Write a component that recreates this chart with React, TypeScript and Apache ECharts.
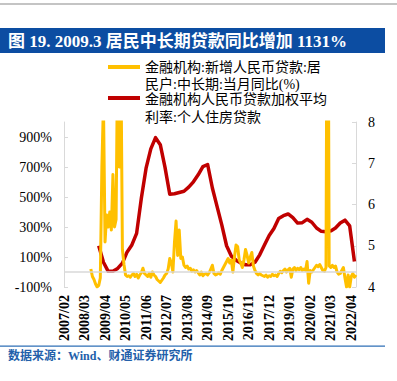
import React, { useEffect, useRef } from "react";
import * as echarts from "echarts";

// Monthly categories 2007/02 .. 2022/07
const firstYear = 2007;
const firstMonth = 2;
const monthCount = 186;
const months: string[] = [];
for (let i = 0; i < monthCount; i++) {
  const m = firstMonth - 1 + i;
  const y = firstYear + Math.floor(m / 12);
  const mm = (m % 12) + 1;
  months.push(`${y}/${mm < 10 ? "0" + mm : mm}`);
}

// 金融机构:新增人民币贷款:居民户:中长期:当月同比(%) — monthly, starting 2008/07
const loanStartIndex = 17;
const loanYoY: number[] = [
  20, -30, -50, -80, -100, -90, -40, 700, 1131, 200, 380, 300, 400, 280, 650, 300, 350, 1500, 700, 1500, 150,
  50, -20, -30, -25, -35, -20, -10, -30, -15, -40, -20, -5, 25, -10, -20, -30, -10, -35, 0, -20, -30, -50,
  -60, -70, -55, -40, -20, -10, 20, 90, 60, 0, 200, 340, 110, 280, 90, 100, 45, 30, 40, 20, 25, 5, 15, 0,
  10, -5, -20, 0, -25, -15,
  -10, -20, -5, 20, 45, -10, -20, -15, -5, -15, 10, 30, 50, 70, 90, 60, 80, 0, 100, 180, 170, 80, 60, 30,
  80, 150, 110, 60, 100, 130, 40, 10, -10, -20, -10, -20, -25, -30, -20, -35, -25, -30, -15, -25, -20, -30,
  -10, 5,
  -5, 10, 20, 0, 15, 25, -35, 20, 30, 10, 25, 15, 30, 10, 20, 10, 70, -75, 10, 0, 15, 30, 45, 35, 50, 30,
  10, 5, 30, 3000, 40, 30, 45, 30, 40, 0, -15, -10, 10, 30, -40, -100, -20, -100, -30, -10, -35, -20,
];

// 金融机构人民币贷款加权平均利率:个人住房贷款 — quarterly (quarter-end months), starting 2008/12
const rateStartIndex = 22;
const rateStep = 3;
const rateValues: number[] = [
  5.0, 4.6, 4.38, 4.38, 4.45, 4.58, 4.85, 5.02, 5.3, 6.15,
  6.88, 7.35, 7.62, 7.45, 6.9, 6.25, 6.26, 6.29, 6.32, 6.42,
  6.55, 6.72, 6.92, 6.97, 6.4, 5.95, 5.5, 5.0, 4.75, 4.65,
  4.58, 4.54, 4.54, 4.6, 4.78, 5.02, 5.25, 5.42, 5.66, 5.73,
  5.77, 5.68, 5.55, 5.56, 5.64, 5.57, 5.43, 5.35, 5.34, 5.36,
  5.43, 5.55, 5.62, 5.48, 4.62,
];

const leftTicks = [-100, 100, 300, 500, 700, 900];
const rightTicks = [4, 5, 6, 7, 8];

const seriesNames = [
  "金融机构:新增人民币贷款:居民户:中长期:当月同比(%)",
  "金融机构人民币贷款加权平均利率:个人住房贷款",
];
const legendLines = [
  ["金融机构:新增人民币贷款:居", "民户:中长期:当月同比(%)"],
  ["金融机构人民币贷款加权平均", "利率:个人住房贷款"],
];
const titleText = "图 19. 2009.3 居民中长期贷款同比增加 1131%";
const sourceText = "数据来源：Wind、财通证券研究所";

const YELLOW = "#FFC000";
const RED = "#C00000";
const GRAY = "#D9D9D9";
const SERIF = "'Liberation Serif', 'Noto Sans CJK SC', serif";

export default function App() {
  const ref = useRef<HTMLDivElement>(null);

  useEffect(() => {
    if (!ref.current) return;
    const chart = echarts.init(ref.current, undefined, { renderer: "svg" });

    const loanData = months.map((_, i) => {
      const k = i - loanStartIndex;
      return k >= 0 && k < loanYoY.length ? loanYoY[k] : null;
    });
    const rateData = rateValues.map((v, k) => [rateStartIndex + k * rateStep, v]);

    const legendGraphics: any[] = [];
    const legendColors = [YELLOW, RED];
    const legendIconY = [67, 98];
    const legendTextY = [
      [67, 84],
      [99, 117],
    ];
    legendLines.forEach((lines, k) => {
      legendGraphics.push({
        type: "line",
        shape: { x1: 108, y1: legendIconY[k], x2: 140, y2: legendIconY[k] },
        style: { stroke: legendColors[k], lineWidth: 4 },
      });
      lines.forEach((t, j) => {
        legendGraphics.push({
          type: "text",
          x: 145,
          y: legendTextY[k][j],
          style: {
            text: t,
            fill: "#000",
            fontSize: 14,
            fontFamily: SERIF,
            verticalAlign: "middle",
            align: "left",
          },
        });
      });
    });

    chart.setOption({
      animation: false,
      backgroundColor: "#fff",
      grid: {
        left: 64,
        right: 41,
        top: 122,
        bottom: 94,
        containLabel: false,
        outerBoundsMode: "none",
      },
      xAxis: {
        type: "category",
        data: months,
        boundaryGap: false,
        axisLine: { show: false },
        axisTick: { show: false },
        axisLabel: {
          interval: 12,
          rotate: 90,
          margin: 8,
          fontSize: 14,
          fontWeight: "bold",
          fontFamily: SERIF,
          color: "#000",
        },
        splitLine: { show: false },
      },
      yAxis: [
        {
          type: "value",
          min: -100,
          max: 1000,
          interval: 200,
          axisLine: { show: true, lineStyle: { color: GRAY, width: 1 } },
          axisTick: {
            show: true,
            inside: true,
            length: 4,
            lineStyle: { color: GRAY },
            customValues: leftTicks,
          },
          axisLabel: {
            formatter: "{value}%",
            customValues: leftTicks,
            margin: 12,
            fontSize: 14,
            fontFamily: SERIF,
            color: "#000",
          },
          splitLine: { show: false },
        },
        {
          type: "value",
          min: 4,
          max: 8,
          interval: 1,
          position: "right",
          axisLine: { show: true, lineStyle: { color: GRAY, width: 1 } },
          axisTick: {
            show: true,
            inside: true,
            length: 4,
            lineStyle: { color: GRAY },
            customValues: rightTicks,
          },
          axisLabel: {
            customValues: rightTicks,
            margin: 12,
            fontSize: 14,
            fontFamily: SERIF,
            color: "#000",
          },
          splitLine: { show: false },
        },
      ],
      series: [
        {
          name: seriesNames[1],
          type: "line",
          yAxisIndex: 1,
          data: rateData,
          showSymbol: false,
          symbol: "none",
          z: 2,
          lineStyle: { color: RED, width: 3.5, join: "round" },
          itemStyle: { color: RED },
        },
        {
          name: seriesNames[0],
          type: "line",
          yAxisIndex: 0,
          data: loanData,
          showSymbol: false,
          symbol: "none",
          clip: true,
          z: 3,
          lineStyle: { color: YELLOW, width: 3, join: "round" },
          itemStyle: { color: YELLOW },
          markLine: {
            silent: true,
            symbol: ["none", "none"],
            label: { show: false },
            lineStyle: { color: GRAY, width: 1.5, type: "solid" },
            emphasis: { disabled: true },
            data: [{ yAxis: 0 }],
          },
        },
      ],
      graphic: [
        {
          type: "rect",
          shape: { x: 0, y: 3, width: 397, height: 2 },
          style: { fill: "#C4C4C4" },
        },
        {
          type: "rect",
          shape: { x: 0, y: 28, width: 385, height: 25 },
          style: { fill: "#0C4DA2" },
        },
        {
          type: "text",
          x: 8,
          y: 41,
          style: {
            text: titleText,
            fill: "#fff",
            fontSize: 17,
            fontWeight: "bold",
            fontFamily: SERIF,
            verticalAlign: "middle",
          },
        },
        ...legendGraphics,
        {
          type: "rect",
          shape: { x: 0, y: 345.5, width: 385, height: 1.3 },
          style: { fill: "#2E6FB6" },
        },
        {
          type: "text",
          x: 8,
          y: 356,
          style: {
            text: sourceText,
            fill: "#2360AA",
            fontSize: 12,
            fontWeight: "bold",
            fontFamily: SERIF,
            verticalAlign: "middle",
          },
        },
      ],
    });

    return () => chart.dispose();
  }, []);

  return (
    <div
      ref={ref}
      style={{ position: "absolute", left: 0, top: 0, width: 397, height: 381 }}
    />
  );
}
